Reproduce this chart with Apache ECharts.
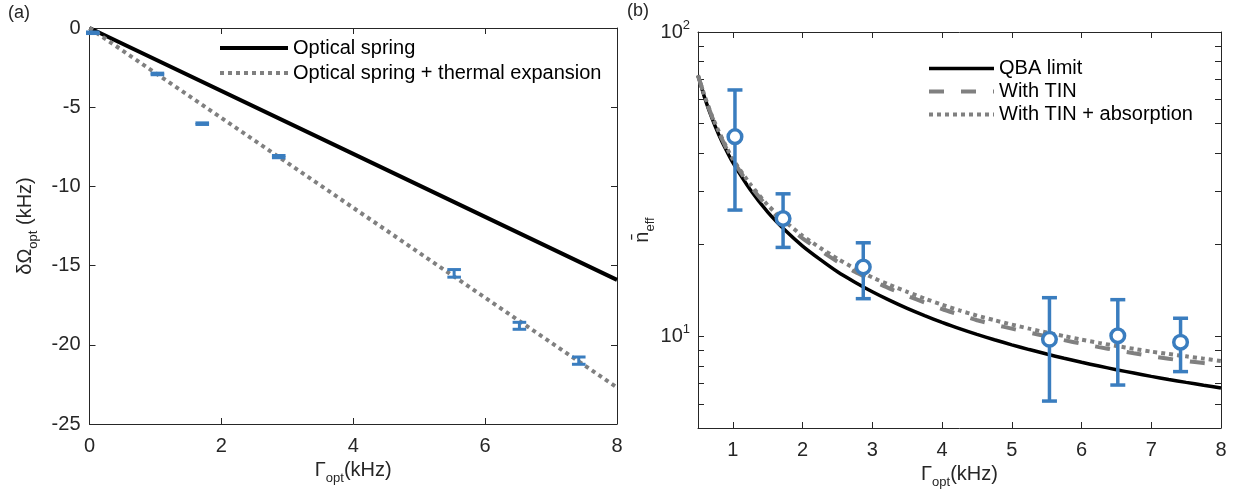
<!DOCTYPE html>
<html><head><meta charset="utf-8">
<script src="https://cdn.jsdelivr.net/npm/echarts@6/dist/echarts.min.js"></script>
<style>html,body{margin:0;padding:0;background:#fff}#c{width:1240px;height:497px}</style>
</head><body><div id="c"></div>
<script>
// ---------- Panel (a) data ----------
const aGamma    = [0.05, 1.03, 1.71, 2.87, 5.53, 6.52, 7.42];
const aShift    = [-0.3, -2.9, -6.04, -8.12, -15.49, -18.8, -21.0];
const aShiftErr = [0.05, 0.05, 0.05, 0.07, 0.24, 0.22, 0.23];
const springX   = [0, 4, 8];
const springY   = [0, -7.95, -15.9];
const thermalX  = [0, 4, 8];
const thermalY  = [0, -11.35, -22.7];
const aXTicks   = [0, 2, 4, 6, 8];
const aYTicks   = [-25, -20, -15, -10, -5, 0];

// ---------- Panel (b) data ----------
const bGamma = [1.03, 1.72, 2.87, 5.54, 6.52, 7.42];
const bN     = [45.3, 24.4, 16.9, 9.78, 10.05, 9.57];
const bNLow  = [26.0, 19.6, 13.3, 6.13, 6.92, 7.66];
const bNHigh = [64.5, 29.4, 20.3, 13.4, 13.2, 11.47];
const curveX = [0.5, 0.6, 0.7, 0.8, 0.9, 1, 1.25, 1.5, 1.75, 2, 2.25, 2.5, 2.75, 3, 3.25, 3.5, 3.75,
                4, 4.25, 4.5, 4.75, 5, 5.25, 5.5, 5.75, 6, 6.25, 6.5, 6.75, 7, 7.25, 7.5, 7.75, 8];
const qbaY   = [72, 60.4, 52.1, 45.9, 41.1, 37.2, 30.3, 25.6, 22.3, 19.8, 17.9, 16.3, 15.07, 14.02, 13.13, 12.36, 11.7,
                11.12, 10.6, 10.15, 9.75, 9.38, 9.05, 8.75, 8.47, 8.22, 7.99, 7.77, 7.58, 7.39, 7.22, 7.06, 6.91, 6.77];
const tinY   = [72, 61, 52.8, 46.8, 41.8, 37.8, 31.2, 26.6, 23.3, 21.0, 19.15, 17.6, 16.3, 15.25, 14.35, 13.6, 12.92,
                12.3, 11.78, 11.3, 10.93, 10.6, 10.29, 10.0, 9.72, 9.46, 9.22, 9.0, 8.8, 8.61, 8.44, 8.3, 8.17, 8.05];
const absY   = [72, 61.2, 53, 47, 42.2, 38.2, 31.6, 27.0, 23.8, 21.4, 19.55, 18.0, 16.72, 15.62, 14.75, 14.0, 13.32,
                12.7, 12.17, 11.7, 11.3, 10.93, 10.6, 10.3, 10.02, 9.76, 9.52, 9.3, 9.1, 8.91, 8.75, 8.6, 8.45, 8.3];
const bXTicks = [1, 2, 3, 4, 5, 6, 7, 8];
const bYLabels = [10, 100];
const bYTicks = [5, 6, 7, 8, 9, 10, 20, 30, 40, 50, 60, 70, 80, 90, 100];

const FONT = 'Liberation Sans';
const AX = '#262626';
const BLUE = '#3a7dbf';
const GRAY = '#808080';

const zip = (xs, ys) => xs.map((x, i) => [x, ys[i]]);

const rich = {
  m: {fontSize: 20, fontFamily: FONT, color: AX},
  s: {fontSize: 13, fontFamily: FONT, color: AX, padding: [15, 0, 0, 0]},
  p: {fontSize: 13, fontFamily: FONT, color: AX, padding: [0, 0, 13, 0]}
};

const SOLID_A = {color: '#000', width: 4};
const DOT = {color: GRAY, width: 4, type: [4, 4], cap: 'butt'};
const SOLID_B = {color: '#000', width: 3.5};
const DASH = {color: GRAY, width: 4, type: [15, 17], cap: 'butt'};
const HIDE = {opacity: 0};

function mirrorX(grid, min, max, ticks) {
  return {type: 'value', gridIndex: grid, position: 'top', min, max,
    axisLine: {show: true, onZero: false, lineStyle: {color: AX, width: 1}},
    axisTick: {show: true, inside: true, length: 6, lineStyle: {color: AX}, customValues: ticks},
    axisLabel: {show: false}, splitLine: {show: false}};
}

const option = {
  animation: false,
  backgroundColor: '#fff',
  grid: [
    {left: 89.5, top: 28, right: 623, bottom: 73},
    {left: 698, top: 32, right: 19, bottom: 69}
  ],
  graphic: [
    {type: 'text', left: 8, top: 4, style: {text: '(a)', font: '18px "Liberation Sans"', fill: AX}},
    {type: 'text', left: 627, top: 2, style: {text: '(b)', font: '18px "Liberation Sans"', fill: AX}}
  ],
  legend: [
    {orient: 'vertical', left: 218, top: 38, padding: 0, itemGap: 5, itemWidth: 68, itemHeight: 20,
     data: [
       {name: 'Optical spring', lineStyle: SOLID_A, itemStyle: HIDE},
       {name: 'Optical spring + thermal expansion', lineStyle: DOT, itemStyle: HIDE}
     ],
     textStyle: {fontSize: 20, fontFamily: FONT, color: '#000'}, selectedMode: false},
    {orient: 'vertical', left: 927, top: 58.5, padding: 0, itemGap: 3, itemWidth: 65, itemHeight: 20,
     data: [
       {name: 'QBA limit', lineStyle: SOLID_B, itemStyle: HIDE},
       {name: 'With TIN', lineStyle: DASH, itemStyle: HIDE},
       {name: 'With TIN + absorption', lineStyle: DOT, itemStyle: HIDE}
     ],
     textStyle: {fontSize: 20, fontFamily: FONT, color: '#000'}, selectedMode: false}
  ],
  xAxis: [
    {type: 'value', gridIndex: 0, min: 0, max: 8, interval: 2,
     axisLine: {show: true, onZero: false, lineStyle: {color: AX, width: 1}},
     axisTick: {show: true, inside: true, length: 6, lineStyle: {color: AX}, customValues: aXTicks},
     axisLabel: {fontSize: 20, fontFamily: FONT, color: AX, margin: 12, customValues: aXTicks},
     splitLine: {show: false},
     name: '{m|Γ}{s|opt}{m|(kHz)}', nameLocation: 'middle', nameGap: 32,
     nameTextStyle: {rich}},
    mirrorX(0, 0, 8, aXTicks),
    {type: 'value', gridIndex: 1, min: 0.5, max: 8,
     axisLine: {show: true, onZero: false, lineStyle: {color: AX, width: 1}},
     axisTick: {show: true, inside: true, length: 6, lineStyle: {color: AX}, customValues: bXTicks},
     axisLabel: {fontSize: 20, fontFamily: FONT, color: AX, margin: 12, customValues: bXTicks},
     splitLine: {show: false},
     name: '{m|Γ}{s|opt}{m|(kHz)}', nameLocation: 'middle', nameGap: 28,
     nameTextStyle: {rich}},
    mirrorX(1, 0.5, 8, bXTicks)
  ],
  yAxis: [
    {type: 'value', gridIndex: 0, min: -25, max: 0, interval: 5,
     axisLine: {show: true, onZero: false, lineStyle: {color: AX, width: 1}},
     axisTick: {show: true, inside: true, length: 6, lineStyle: {color: AX}, customValues: aYTicks},
     axisLabel: {fontSize: 20, fontFamily: FONT, color: AX, margin: 9, customValues: aYTicks},
     splitLine: {show: false},
     name: '{m|δΩ}{s|opt}{m| (kHz)}', nameLocation: 'middle', nameRotate: 90, nameGap: 50,
     nameTextStyle: {rich}},
    {type: 'value', gridIndex: 0, min: -25, max: 0, interval: 5, position: 'right',
     axisLine: {show: true, onZero: false, lineStyle: {color: AX, width: 1}},
     axisTick: {show: true, inside: true, length: 6, lineStyle: {color: AX}, customValues: aYTicks},
     axisLabel: {show: false}, splitLine: {show: false}},
    {type: 'log', logBase: 10, gridIndex: 1, min: 5, max: 100,
     axisLine: {show: true, onZero: false, lineStyle: {color: AX, width: 1}},
     axisTick: {show: true, inside: true, length: 6, lineStyle: {color: AX}, customValues: bYTicks},
     axisLabel: {fontFamily: FONT, color: AX, margin: 8, customValues: bYLabels,
       formatter: v => '{m|10}{p|' + Math.round(Math.log10(v)) + '}', rich},
     splitLine: {show: false}, minorTick: {show: false},
     name: '{m|n\u0304}{s|eff}', nameLocation: 'middle', nameRotate: 90, nameGap: 40,
     nameTextStyle: {rich}},
    {type: 'log', logBase: 10, gridIndex: 1, min: 5, max: 100, position: 'right',
     axisLine: {show: true, onZero: false, lineStyle: {color: AX, width: 1}},
     axisTick: {show: true, inside: true, length: 6, lineStyle: {color: AX}, customValues: bYTicks},
     axisLabel: {show: false}, splitLine: {show: false}}
  ],
  series: [
    {name: 'Optical spring', type: 'line', xAxisIndex: 0, yAxisIndex: 0, data: zip(springX, springY),
     showSymbol: false, symbol: 'none', lineStyle: SOLID_A, itemStyle: {color: '#000'}, z: 2},
    {name: 'Optical spring + thermal expansion', type: 'line', xAxisIndex: 0, yAxisIndex: 0, data: zip(thermalX, thermalY),
     showSymbol: false, symbol: 'none', lineStyle: DOT, itemStyle: {color: GRAY}, z: 3},
    {name: 'aErr', type: 'custom', xAxisIndex: 0, yAxisIndex: 0, z: 5,
     data: aGamma.map((x, i) => [x, aShift[i], aShiftErr[i]]),
     encode: {x: 0, y: 1},
     renderItem: (params, api) => {
       const x = api.value(0), y = api.value(1), e = api.value(2);
       const t = api.coord([x, y + e]), b = api.coord([x, y - e]);
       const hw = 6.8;
       const st = {stroke: BLUE, lineWidth: 3, fill: null};
       return {type: 'group', children: [
         {type: 'line', shape: {x1: t[0], y1: t[1], x2: b[0], y2: b[1]}, style: st},
         {type: 'line', shape: {x1: t[0] - hw, y1: t[1], x2: t[0] + hw, y2: t[1]}, style: st},
         {type: 'line', shape: {x1: b[0] - hw, y1: b[1], x2: b[0] + hw, y2: b[1]}, style: st}
       ]};
     }},
    {name: 'QBA limit', type: 'line', xAxisIndex: 2, yAxisIndex: 2, data: zip(curveX, qbaY), smooth: 0.2,
     showSymbol: false, symbol: 'none', lineStyle: SOLID_B, itemStyle: {color: '#000'}, z: 2},
    {name: 'With TIN', type: 'line', xAxisIndex: 2, yAxisIndex: 2, data: zip(curveX, tinY), smooth: 0.2,
     showSymbol: false, symbol: 'none', lineStyle: DASH, itemStyle: {color: GRAY}, z: 3},
    {name: 'With TIN + absorption', type: 'line', xAxisIndex: 2, yAxisIndex: 2, data: zip(curveX, absY), smooth: 0.2,
     showSymbol: false, symbol: 'none', lineStyle: DOT, itemStyle: {color: GRAY}, z: 3},
    {name: 'bErr', type: 'custom', xAxisIndex: 2, yAxisIndex: 2, z: 5,
     data: bGamma.map((x, i) => [x, bN[i], bNLow[i], bNHigh[i]]),
     encode: {x: 0, y: [1, 2, 3]},
     renderItem: (params, api) => {
       const x = api.value(0);
       const c = api.coord([x, api.value(1)]);
       const lo = api.coord([x, api.value(2)]), hi = api.coord([x, api.value(3)]);
       const hw = 7.5;
       const st = {stroke: BLUE, lineWidth: 3.5, fill: null};
       return {type: 'group', children: [
         {type: 'line', shape: {x1: lo[0], y1: lo[1], x2: hi[0], y2: hi[1]}, style: st},
         {type: 'line', shape: {x1: lo[0] - hw, y1: lo[1], x2: lo[0] + hw, y2: lo[1]}, style: st},
         {type: 'line', shape: {x1: hi[0] - hw, y1: hi[1], x2: hi[0] + hw, y2: hi[1]}, style: st},
         {type: 'circle', shape: {cx: c[0], cy: c[1], r: 6.8}, style: {stroke: BLUE, lineWidth: 3.5, fill: '#fff'}}
       ]};
     }}
  ]
};

const chart = echarts.init(document.getElementById('c'), null, {renderer: 'canvas'});
chart.setOption(option);
</script>
</body></html>
